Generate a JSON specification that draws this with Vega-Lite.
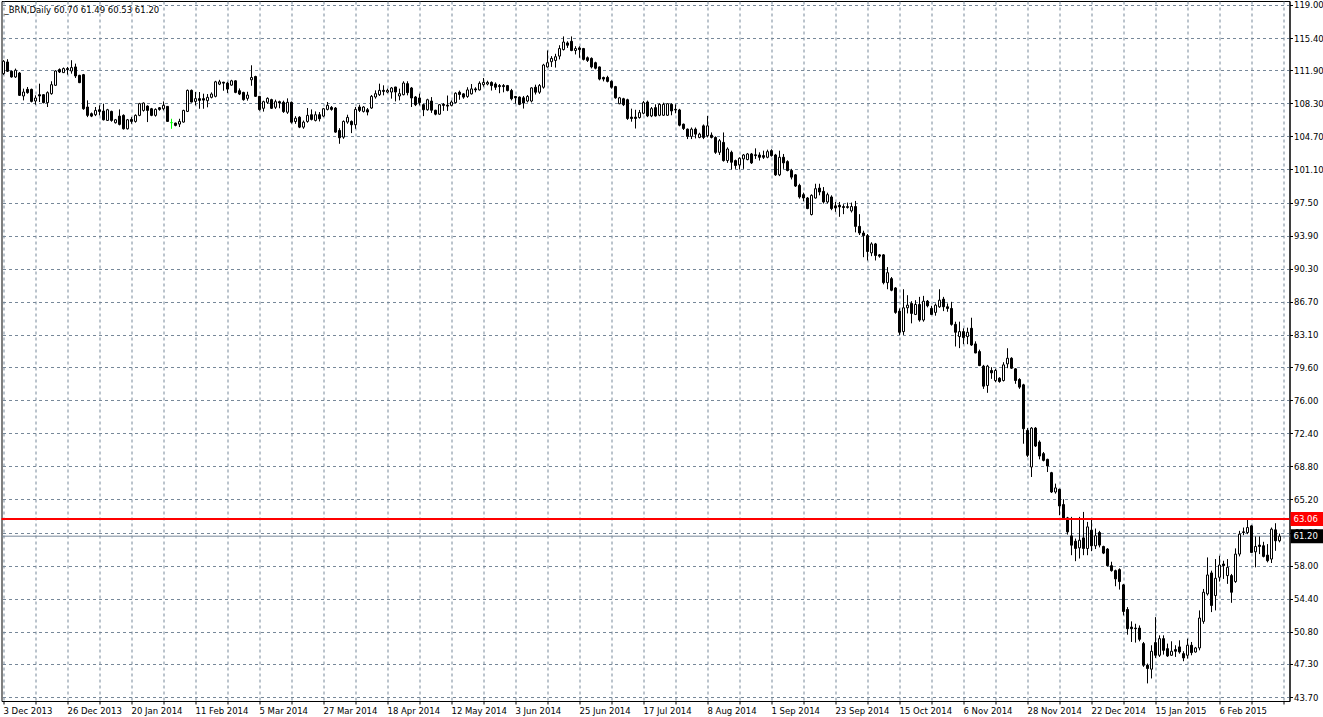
{
  "$schema": "https://vega.github.io/schema/vega-lite/v6.json",
  "autosize": "none",
  "width": 1288,
  "height": 700,
  "padding": {"left": 1.5, "top": 1, "right": 33.5, "bottom": 16},
  "background": "white",
  "config": {"view": {"stroke": "black", "strokeWidth": 1}, "font": "DejaVu Sans"},
  "title": {"text": "_BRN,Daily  60.70 61.49 60.53 61.20", "anchor": "start", "frame": "group", "orient": "top", "offset": -14, "dx": 3, "fontSize": 8.5, "font": "DejaVu Sans", "fontWeight": "normal", "color": "black"},
  "datasets": {
    "levels": [{"name": "Level", "price": 63.06}, {"name": "Bid", "price": 61.2}],
    "bars": [
{"d":"2013-12-03","o":111.53,"h":113.0,"l":111.4,"c":112.88},
{"d":"2013-12-04","o":112.8,"h":113.1,"l":111.71,"c":111.79},
{"d":"2013-12-05","o":111.79,"h":111.85,"l":111.1,"c":111.17},
{"d":"2013-12-06","o":111.17,"h":112.08,"l":111.06,"c":111.9},
{"d":"2013-12-09","o":111.6,"h":111.7,"l":109.1,"c":109.17},
{"d":"2013-12-10","o":109.1,"h":109.9,"l":108.62,"c":109.53},
{"d":"2013-12-11","o":109.82,"h":110.08,"l":109.35,"c":109.46},
{"d":"2013-12-12","o":109.82,"h":109.9,"l":108.4,"c":108.51},
{"d":"2013-12-13","o":108.55,"h":109.17,"l":108.15,"c":108.88},
{"d":"2013-12-16","o":109.24,"h":110.44,"l":108.44,"c":109.1},
{"d":"2013-12-17","o":109.24,"h":109.3,"l":108.3,"c":108.37},
{"d":"2013-12-18","o":108.37,"h":109.6,"l":107.9,"c":109.46},
{"d":"2013-12-19","o":109.35,"h":110.7,"l":109.24,"c":110.33},
{"d":"2013-12-20","o":110.26,"h":111.9,"l":110.2,"c":111.82},
{"d":"2013-12-23","o":111.97,"h":112.1,"l":111.6,"c":111.71},
{"d":"2013-12-24","o":111.64,"h":112.2,"l":111.6,"c":112.08},
{"d":"2013-12-26","o":112.08,"h":112.26,"l":111.42,"c":111.97},
{"d":"2013-12-27","o":111.82,"h":112.99,"l":111.53,"c":112.19},
{"d":"2013-12-30","o":112.26,"h":112.62,"l":111.06,"c":111.28},
{"d":"2013-12-31","o":111.35,"h":111.4,"l":110.5,"c":110.55},
{"d":"2014-01-02","o":111.42,"h":111.5,"l":107.6,"c":107.71},
{"d":"2014-01-03","o":107.9,"h":108.62,"l":106.8,"c":106.99},
{"d":"2014-01-06","o":107.17,"h":107.3,"l":106.8,"c":106.91},
{"d":"2014-01-07","o":107.06,"h":107.9,"l":106.91,"c":107.53},
{"d":"2014-01-08","o":107.6,"h":108.08,"l":106.99,"c":107.42},
{"d":"2014-01-09","o":107.46,"h":108.26,"l":106.44,"c":106.51},
{"d":"2014-01-10","o":106.44,"h":107.7,"l":106.4,"c":107.6},
{"d":"2014-01-13","o":107.42,"h":107.5,"l":106.3,"c":106.44},
{"d":"2014-01-14","o":106.19,"h":106.6,"l":106.1,"c":106.51},
{"d":"2014-01-15","o":106.91,"h":107.64,"l":105.9,"c":106.01},
{"d":"2014-01-16","o":106.99,"h":107.1,"l":105.45,"c":105.53},
{"d":"2014-01-17","o":105.53,"h":106.6,"l":105.45,"c":106.51},
{"d":"2014-01-20","o":106.55,"h":106.8,"l":106.08,"c":106.33},
{"d":"2014-01-21","o":106.33,"h":107.1,"l":106.2,"c":106.99},
{"d":"2014-01-22","o":106.99,"h":108.35,"l":106.9,"c":108.26},
{"d":"2014-01-23","o":107.53,"h":108.4,"l":107.4,"c":108.33},
{"d":"2014-01-24","o":108.0,"h":108.08,"l":106.26,"c":107.53},
{"d":"2014-01-27","o":107.71,"h":107.8,"l":106.9,"c":106.99},
{"d":"2014-01-28","o":106.99,"h":107.75,"l":106.85,"c":107.64},
{"d":"2014-01-29","o":107.82,"h":107.9,"l":107.5,"c":107.64},
{"d":"2014-01-30","o":107.71,"h":108.51,"l":107.53,"c":108.08},
{"d":"2014-01-31","o":107.97,"h":108.0,"l":106.3,"c":106.33},
{"d":"2014-02-03","o":106.2,"h":106.62,"l":105.53,"c":106.2},
{"d":"2014-02-04","o":106.15,"h":106.2,"l":105.8,"c":105.9},
{"d":"2014-02-05","o":106.04,"h":106.62,"l":105.72,"c":106.33},
{"d":"2014-02-06","o":106.26,"h":107.6,"l":106.2,"c":107.53},
{"d":"2014-02-07","o":107.42,"h":109.8,"l":107.35,"c":109.71},
{"d":"2014-02-10","o":109.71,"h":109.8,"l":108.4,"c":108.44},
{"d":"2014-02-11","o":108.51,"h":109.53,"l":108.08,"c":108.81},
{"d":"2014-02-12","o":108.81,"h":109.53,"l":107.71,"c":108.62},
{"d":"2014-02-13","o":108.81,"h":109.35,"l":107.71,"c":108.65},
{"d":"2014-02-14","o":108.59,"h":109.31,"l":107.87,"c":108.95},
{"d":"2014-02-17","o":108.95,"h":109.49,"l":108.84,"c":109.31},
{"d":"2014-02-18","o":109.06,"h":110.75,"l":108.95,"c":110.64},
{"d":"2014-02-19","o":110.39,"h":110.86,"l":110.28,"c":110.64},
{"d":"2014-02-20","o":110.6,"h":110.64,"l":109.67,"c":110.5},
{"d":"2014-02-21","o":110.5,"h":110.64,"l":109.42,"c":109.85},
{"d":"2014-02-24","o":110.28,"h":110.86,"l":110.21,"c":110.75},
{"d":"2014-02-25","o":110.75,"h":110.8,"l":109.4,"c":109.49},
{"d":"2014-02-26","o":109.67,"h":109.92,"l":109.2,"c":109.31},
{"d":"2014-02-27","o":109.49,"h":109.56,"l":108.59,"c":108.7},
{"d":"2014-02-28","o":108.84,"h":109.56,"l":108.59,"c":109.2},
{"d":"2014-03-03","o":110.86,"h":112.44,"l":110.21,"c":111.11},
{"d":"2014-03-04","o":111.22,"h":111.3,"l":109.0,"c":109.06},
{"d":"2014-03-05","o":109.06,"h":109.1,"l":107.5,"c":107.62},
{"d":"2014-03-06","o":107.76,"h":108.59,"l":107.4,"c":108.48},
{"d":"2014-03-07","o":108.41,"h":108.95,"l":108.23,"c":108.84},
{"d":"2014-03-10","o":108.7,"h":108.8,"l":107.7,"c":107.76},
{"d":"2014-03-11","o":107.87,"h":108.7,"l":107.69,"c":108.48},
{"d":"2014-03-12","o":108.48,"h":108.59,"l":107.76,"c":108.34},
{"d":"2014-03-13","o":108.41,"h":108.59,"l":107.26,"c":107.4},
{"d":"2014-03-14","o":107.33,"h":108.84,"l":107.15,"c":108.41},
{"d":"2014-03-17","o":108.41,"h":108.5,"l":106.1,"c":106.25},
{"d":"2014-03-18","o":106.32,"h":106.9,"l":106.07,"c":106.68},
{"d":"2014-03-19","o":106.79,"h":106.9,"l":105.6,"c":105.71},
{"d":"2014-03-20","o":105.71,"h":106.43,"l":105.53,"c":106.25},
{"d":"2014-03-21","o":106.33,"h":107.79,"l":106.19,"c":106.99},
{"d":"2014-03-24","o":107.06,"h":107.64,"l":106.44,"c":106.55},
{"d":"2014-03-25","o":106.44,"h":107.42,"l":106.33,"c":107.06},
{"d":"2014-03-26","o":107.06,"h":107.35,"l":106.33,"c":106.62},
{"d":"2014-03-27","o":106.91,"h":107.8,"l":106.8,"c":107.71},
{"d":"2014-03-28","o":107.64,"h":108.44,"l":107.53,"c":108.08},
{"d":"2014-03-31","o":107.86,"h":108.0,"l":107.5,"c":107.64},
{"d":"2014-04-01","o":107.79,"h":107.9,"l":105.1,"c":105.17},
{"d":"2014-04-02","o":105.35,"h":105.6,"l":103.9,"c":104.55},
{"d":"2014-04-03","o":104.62,"h":106.44,"l":104.44,"c":106.33},
{"d":"2014-04-04","o":106.26,"h":107.06,"l":106.08,"c":106.77},
{"d":"2014-04-07","o":106.33,"h":106.44,"l":105.06,"c":105.97},
{"d":"2014-04-08","o":105.97,"h":107.9,"l":105.53,"c":107.64},
{"d":"2014-04-09","o":107.9,"h":108.15,"l":107.35,"c":107.53},
{"d":"2014-04-10","o":107.42,"h":108.0,"l":107.3,"c":107.9},
{"d":"2014-04-11","o":107.6,"h":107.79,"l":106.99,"c":107.35},
{"d":"2014-04-14","o":107.79,"h":109.2,"l":107.7,"c":109.06},
{"d":"2014-04-15","o":108.99,"h":109.71,"l":108.81,"c":109.35},
{"d":"2014-04-16","o":109.24,"h":110.44,"l":109.1,"c":109.71},
{"d":"2014-04-17","o":109.71,"h":110.26,"l":109.17,"c":109.6},
{"d":"2014-04-18","o":109.53,"h":109.9,"l":109.4,"c":109.71},
{"d":"2014-04-21","o":109.53,"h":110.08,"l":108.81,"c":109.97},
{"d":"2014-04-22","o":110.08,"h":110.1,"l":108.51,"c":109.53},
{"d":"2014-04-23","o":109.1,"h":109.9,"l":108.62,"c":109.35},
{"d":"2014-04-24","o":109.24,"h":110.7,"l":109.17,"c":110.51},
{"d":"2014-04-25","o":110.44,"h":110.7,"l":109.17,"c":109.46},
{"d":"2014-04-28","o":109.97,"h":110.08,"l":107.9,"c":108.88},
{"d":"2014-04-29","o":108.99,"h":109.1,"l":108.0,"c":108.15},
{"d":"2014-04-30","o":108.88,"h":109.35,"l":108.08,"c":108.37},
{"d":"2014-05-01","o":108.15,"h":108.26,"l":106.91,"c":107.6},
{"d":"2014-05-02","o":107.6,"h":108.8,"l":107.5,"c":108.69},
{"d":"2014-05-05","o":108.55,"h":108.98,"l":107.26,"c":107.55},
{"d":"2014-05-06","o":107.55,"h":107.6,"l":107.0,"c":107.12},
{"d":"2014-05-07","o":107.12,"h":108.2,"l":107.05,"c":108.15},
{"d":"2014-05-08","o":108.19,"h":108.33,"l":107.48,"c":108.08},
{"d":"2014-05-09","o":108.1,"h":109.15,"l":107.48,"c":108.0},
{"d":"2014-05-12","o":108.08,"h":108.62,"l":107.98,"c":108.44},
{"d":"2014-05-13","o":108.37,"h":109.5,"l":108.3,"c":109.4},
{"d":"2014-05-14","o":109.51,"h":109.69,"l":108.69,"c":109.26},
{"d":"2014-05-15","o":109.33,"h":109.4,"l":108.8,"c":108.98},
{"d":"2014-05-16","o":109.05,"h":110.05,"l":108.9,"c":109.76},
{"d":"2014-05-19","o":109.33,"h":110.4,"l":109.26,"c":109.87},
{"d":"2014-05-20","o":109.87,"h":110.05,"l":109.5,"c":109.76},
{"d":"2014-05-21","o":109.76,"h":110.69,"l":109.69,"c":110.48},
{"d":"2014-05-22","o":110.33,"h":111.05,"l":110.12,"c":110.58},
{"d":"2014-05-23","o":110.4,"h":110.76,"l":110.26,"c":110.58},
{"d":"2014-05-26","o":110.58,"h":110.69,"l":109.69,"c":110.23},
{"d":"2014-05-27","o":110.4,"h":110.58,"l":109.76,"c":110.05},
{"d":"2014-05-28","o":110.23,"h":110.4,"l":109.4,"c":110.12},
{"d":"2014-05-29","o":110.23,"h":110.4,"l":109.5,"c":110.12},
{"d":"2014-05-30","o":110.23,"h":110.3,"l":109.6,"c":109.69},
{"d":"2014-06-02","o":109.69,"h":109.87,"l":108.62,"c":108.8},
{"d":"2014-06-03","o":109.05,"h":109.1,"l":108.26,"c":108.9},
{"d":"2014-06-04","o":108.98,"h":109.05,"l":108.1,"c":108.19},
{"d":"2014-06-05","o":108.9,"h":109.1,"l":107.73,"c":108.33},
{"d":"2014-06-06","o":108.55,"h":109.2,"l":108.4,"c":109.05},
{"d":"2014-06-09","o":108.55,"h":110.05,"l":108.4,"c":109.98},
{"d":"2014-06-10","o":110.05,"h":110.33,"l":109.26,"c":109.51},
{"d":"2014-06-11","o":109.51,"h":110.4,"l":109.33,"c":110.23},
{"d":"2014-06-12","o":110.05,"h":112.6,"l":109.9,"c":112.47},
{"d":"2014-06-13","o":112.26,"h":114.05,"l":112.19,"c":112.72},
{"d":"2014-06-16","o":112.83,"h":113.44,"l":112.26,"c":113.19},
{"d":"2014-06-17","o":112.97,"h":113.69,"l":112.19,"c":113.37},
{"d":"2014-06-18","o":113.44,"h":114.62,"l":113.08,"c":114.26},
{"d":"2014-06-19","o":114.15,"h":115.58,"l":114.05,"c":114.97},
{"d":"2014-06-20","o":114.87,"h":115.05,"l":114.33,"c":114.62},
{"d":"2014-06-23","o":115.05,"h":115.58,"l":113.97,"c":114.05},
{"d":"2014-06-24","o":114.05,"h":114.51,"l":113.62,"c":114.26},
{"d":"2014-06-25","o":114.33,"h":114.51,"l":113.26,"c":114.15},
{"d":"2014-06-26","o":114.26,"h":114.33,"l":112.97,"c":113.08},
{"d":"2014-06-27","o":113.26,"h":113.4,"l":112.8,"c":112.97},
{"d":"2014-06-30","o":113.19,"h":113.3,"l":112.1,"c":112.26},
{"d":"2014-07-01","o":112.72,"h":112.83,"l":112.0,"c":112.12},
{"d":"2014-07-02","o":112.26,"h":112.3,"l":110.8,"c":110.94},
{"d":"2014-07-03","o":111.12,"h":111.2,"l":110.69,"c":110.94},
{"d":"2014-07-04","o":111.12,"h":111.3,"l":110.58,"c":110.69},
{"d":"2014-07-07","o":110.69,"h":110.8,"l":109.9,"c":110.05},
{"d":"2014-07-08","o":110.12,"h":110.2,"l":108.8,"c":108.9},
{"d":"2014-07-09","o":108.26,"h":109.0,"l":108.2,"c":108.9},
{"d":"2014-07-10","o":108.8,"h":108.9,"l":108.0,"c":108.15},
{"d":"2014-07-11","o":108.69,"h":108.8,"l":106.5,"c":106.65},
{"d":"2014-07-14","o":106.8,"h":107.72,"l":106.3,"c":106.65},
{"d":"2014-07-15","o":106.8,"h":107.6,"l":105.56,"c":106.65},
{"d":"2014-07-16","o":106.75,"h":107.58,"l":106.64,"c":107.29},
{"d":"2014-07-17","o":107.22,"h":108.55,"l":107.11,"c":108.37},
{"d":"2014-07-18","o":108.44,"h":108.6,"l":106.8,"c":106.93},
{"d":"2014-07-21","o":106.93,"h":107.9,"l":106.8,"c":107.72},
{"d":"2014-07-22","o":107.83,"h":108.19,"l":106.86,"c":106.93},
{"d":"2014-07-23","o":107.0,"h":108.3,"l":106.9,"c":108.19},
{"d":"2014-07-24","o":107.0,"h":108.37,"l":106.93,"c":108.19},
{"d":"2014-07-25","o":107.0,"h":108.3,"l":106.93,"c":108.26},
{"d":"2014-07-28","o":108.19,"h":108.3,"l":107.0,"c":107.47},
{"d":"2014-07-29","o":107.65,"h":108.19,"l":107.22,"c":107.58},
{"d":"2014-07-30","o":107.58,"h":107.7,"l":105.8,"c":105.92},
{"d":"2014-07-31","o":106.03,"h":106.1,"l":105.4,"c":105.56},
{"d":"2014-08-01","o":105.49,"h":105.56,"l":104.41,"c":104.7},
{"d":"2014-08-04","o":104.7,"h":105.67,"l":104.41,"c":105.49},
{"d":"2014-08-05","o":105.49,"h":105.67,"l":104.48,"c":104.95},
{"d":"2014-08-06","o":104.59,"h":105.1,"l":104.5,"c":104.95},
{"d":"2014-08-07","o":105.85,"h":106.0,"l":104.41,"c":104.59},
{"d":"2014-08-08","o":104.77,"h":106.93,"l":104.59,"c":105.85},
{"d":"2014-08-11","o":104.84,"h":105.13,"l":104.48,"c":104.59},
{"d":"2014-08-12","o":104.59,"h":104.7,"l":102.8,"c":102.97},
{"d":"2014-08-13","o":102.97,"h":104.41,"l":102.68,"c":104.23},
{"d":"2014-08-14","o":104.05,"h":105.13,"l":101.96,"c":102.07},
{"d":"2014-08-15","o":102.07,"h":103.51,"l":101.82,"c":103.33},
{"d":"2014-08-18","o":102.97,"h":103.15,"l":101.1,"c":101.89},
{"d":"2014-08-19","o":102.07,"h":102.18,"l":101.17,"c":101.53},
{"d":"2014-08-20","o":101.6,"h":102.43,"l":101.1,"c":102.32},
{"d":"2014-08-21","o":102.25,"h":102.79,"l":101.17,"c":102.68},
{"d":"2014-08-22","o":102.18,"h":102.9,"l":102.1,"c":102.79},
{"d":"2014-08-25","o":102.79,"h":102.9,"l":101.7,"c":101.82},
{"d":"2014-08-26","o":102.7,"h":103.4,"l":102.25,"c":102.61},
{"d":"2014-08-27","o":102.68,"h":102.97,"l":102.07,"c":102.43},
{"d":"2014-08-28","o":102.61,"h":103.15,"l":102.25,"c":102.43},
{"d":"2014-08-29","o":102.43,"h":103.26,"l":102.32,"c":103.04},
{"d":"2014-09-01","o":103.15,"h":103.3,"l":102.5,"c":102.61},
{"d":"2014-09-02","o":102.68,"h":102.8,"l":100.4,"c":100.52},
{"d":"2014-09-03","o":100.52,"h":103.15,"l":100.38,"c":102.43},
{"d":"2014-09-04","o":102.43,"h":102.79,"l":101.17,"c":101.82},
{"d":"2014-09-05","o":101.96,"h":102.1,"l":100.9,"c":100.99},
{"d":"2014-09-08","o":100.99,"h":101.17,"l":100.02,"c":100.27},
{"d":"2014-09-09","o":100.52,"h":100.6,"l":99.2,"c":99.3},
{"d":"2014-09-10","o":99.37,"h":99.55,"l":97.93,"c":98.11},
{"d":"2014-09-11","o":98.36,"h":98.58,"l":97.64,"c":98.0},
{"d":"2014-09-12","o":98.0,"h":98.11,"l":96.78,"c":96.85},
{"d":"2014-09-15","o":96.2,"h":98.4,"l":96.1,"c":98.29},
{"d":"2014-09-16","o":98.0,"h":99.55,"l":97.93,"c":99.01},
{"d":"2014-09-17","o":99.08,"h":99.55,"l":98.29,"c":98.65},
{"d":"2014-09-18","o":98.72,"h":99.19,"l":97.39,"c":97.57},
{"d":"2014-09-19","o":97.57,"h":98.58,"l":97.39,"c":98.36},
{"d":"2014-09-22","o":98.11,"h":98.29,"l":96.67,"c":96.85},
{"d":"2014-09-23","o":97.14,"h":97.57,"l":96.49,"c":96.92},
{"d":"2014-09-24","o":97.21,"h":97.57,"l":95.95,"c":97.03},
{"d":"2014-09-25","o":97.07,"h":97.32,"l":96.24,"c":96.96},
{"d":"2014-09-26","o":96.96,"h":97.5,"l":96.85,"c":97.07},
{"d":"2014-09-29","o":96.6,"h":97.5,"l":96.42,"c":97.07},
{"d":"2014-09-30","o":97.07,"h":97.68,"l":94.26,"c":94.91},
{"d":"2014-10-01","o":94.91,"h":96.24,"l":93.97,"c":94.19},
{"d":"2014-10-02","o":94.19,"h":94.44,"l":91.56,"c":93.9},
{"d":"2014-10-03","o":93.9,"h":94.08,"l":91.2,"c":92.17},
{"d":"2014-10-06","o":92.03,"h":93.18,"l":91.67,"c":93.0},
{"d":"2014-10-07","o":93.0,"h":93.11,"l":91.2,"c":91.74},
{"d":"2014-10-08","o":91.81,"h":91.9,"l":91.5,"c":91.67},
{"d":"2014-10-09","o":91.81,"h":91.9,"l":88.6,"c":88.79},
{"d":"2014-10-10","o":88.79,"h":90.48,"l":88.07,"c":89.87},
{"d":"2014-10-13","o":89.22,"h":89.4,"l":87.85,"c":87.96},
{"d":"2014-10-14","o":88.21,"h":88.3,"l":85.4,"c":85.55},
{"d":"2014-10-15","o":85.69,"h":85.98,"l":83.1,"c":83.39},
{"d":"2014-10-16","o":83.46,"h":88.07,"l":83.1,"c":86.05},
{"d":"2014-10-17","o":86.05,"h":87.42,"l":85.44,"c":86.34},
{"d":"2014-10-20","o":86.52,"h":86.77,"l":84.36,"c":85.44},
{"d":"2014-10-21","o":85.33,"h":86.88,"l":85.26,"c":86.41},
{"d":"2014-10-22","o":86.41,"h":87.24,"l":84.54,"c":84.72},
{"d":"2014-10-23","o":84.72,"h":87.35,"l":84.54,"c":86.77},
{"d":"2014-10-24","o":86.77,"h":86.9,"l":86.1,"c":86.27},
{"d":"2014-10-27","o":85.98,"h":86.27,"l":85.26,"c":85.33},
{"d":"2014-10-28","o":85.55,"h":86.52,"l":85.19,"c":86.34},
{"d":"2014-10-29","o":86.16,"h":88.07,"l":86.05,"c":86.88},
{"d":"2014-10-30","o":86.99,"h":87.24,"l":85.69,"c":86.16},
{"d":"2014-10-31","o":86.16,"h":86.52,"l":85.62,"c":85.98},
{"d":"2014-11-03","o":85.98,"h":86.7,"l":84.11,"c":84.25},
{"d":"2014-11-04","o":84.25,"h":84.54,"l":81.84,"c":83.39},
{"d":"2014-11-05","o":82.92,"h":84.54,"l":81.66,"c":83.46},
{"d":"2014-11-06","o":83.46,"h":83.82,"l":82.09,"c":82.81},
{"d":"2014-11-07","o":82.92,"h":83.89,"l":82.09,"c":83.39},
{"d":"2014-11-10","o":83.82,"h":84.97,"l":81.9,"c":82.0},
{"d":"2014-11-11","o":82.12,"h":82.4,"l":81.1,"c":81.14},
{"d":"2014-11-12","o":81.29,"h":81.5,"l":79.7,"c":79.77},
{"d":"2014-11-13","o":79.7,"h":79.84,"l":77.23,"c":77.52},
{"d":"2014-11-14","o":77.6,"h":79.84,"l":76.8,"c":79.7},
{"d":"2014-11-17","o":79.23,"h":79.59,"l":78.32,"c":78.97},
{"d":"2014-11-18","o":78.14,"h":79.41,"l":77.96,"c":79.23},
{"d":"2014-11-19","o":78.39,"h":78.5,"l":77.9,"c":78.03},
{"d":"2014-11-20","o":78.14,"h":80.13,"l":78.03,"c":79.84},
{"d":"2014-11-21","o":79.95,"h":81.65,"l":79.48,"c":80.56},
{"d":"2014-11-24","o":80.56,"h":80.67,"l":79.41,"c":79.48},
{"d":"2014-11-25","o":79.41,"h":79.48,"l":77.78,"c":78.14},
{"d":"2014-11-26","o":78.25,"h":78.39,"l":77.23,"c":77.42},
{"d":"2014-11-27","o":77.67,"h":77.78,"l":71.26,"c":72.89},
{"d":"2014-11-28","o":72.71,"h":72.96,"l":69.81,"c":70.0},
{"d":"2014-12-01","o":68.73,"h":73.07,"l":67.64,"c":72.96},
{"d":"2014-12-02","o":72.96,"h":73.07,"l":70.9,"c":71.01},
{"d":"2014-12-03","o":71.44,"h":71.62,"l":69.56,"c":69.92},
{"d":"2014-12-04","o":70.18,"h":70.36,"l":69.34,"c":69.45},
{"d":"2014-12-05","o":69.56,"h":69.63,"l":68.18,"c":68.84},
{"d":"2014-12-08","o":68.11,"h":68.2,"l":65.9,"c":66.01},
{"d":"2014-12-09","o":66.01,"h":66.92,"l":65.83,"c":66.45},
{"d":"2014-12-10","o":66.3,"h":66.37,"l":63.48,"c":64.49},
{"d":"2014-12-11","o":64.64,"h":65.22,"l":63.12,"c":63.19},
{"d":"2014-12-12","o":63.19,"h":63.3,"l":61.38,"c":61.67},
{"d":"2014-12-15","o":61.23,"h":63.3,"l":59.13,"c":60.22},
{"d":"2014-12-16","o":60.65,"h":60.94,"l":58.48,"c":59.86},
{"d":"2014-12-17","o":59.93,"h":63.3,"l":58.77,"c":60.76},
{"d":"2014-12-18","o":61.01,"h":63.84,"l":59.13,"c":59.86},
{"d":"2014-12-19","o":59.86,"h":62.75,"l":59.13,"c":62.21},
{"d":"2014-12-22","o":61.85,"h":63.19,"l":59.57,"c":60.15},
{"d":"2014-12-23","o":60.15,"h":62.03,"l":59.8,"c":61.24},
{"d":"2014-12-24","o":61.6,"h":61.78,"l":59.98,"c":60.23},
{"d":"2014-12-26","o":60.08,"h":60.16,"l":59.25,"c":59.36},
{"d":"2014-12-29","o":59.8,"h":59.9,"l":57.9,"c":57.99},
{"d":"2014-12-30","o":57.99,"h":58.42,"l":57.34,"c":57.45},
{"d":"2014-12-31","o":57.45,"h":57.56,"l":55.75,"c":56.55},
{"d":"2015-01-02","o":57.56,"h":57.7,"l":55.39,"c":56.26},
{"d":"2015-01-05","o":55.9,"h":56.0,"l":52.58,"c":53.01},
{"d":"2015-01-06","o":53.22,"h":53.48,"l":50.48,"c":51.13},
{"d":"2015-01-07","o":51.31,"h":51.93,"l":49.69,"c":51.13},
{"d":"2015-01-08","o":51.2,"h":51.67,"l":49.62,"c":51.13},
{"d":"2015-01-09","o":51.2,"h":51.49,"l":49.76,"c":49.98},
{"d":"2015-01-12","o":49.51,"h":49.69,"l":46.98,"c":47.16},
{"d":"2015-01-13","o":47.16,"h":47.34,"l":45.18,"c":46.8},
{"d":"2015-01-14","o":46.73,"h":49.33,"l":45.72,"c":48.68},
{"d":"2015-01-15","o":49.62,"h":52.39,"l":47.95,"c":48.24},
{"d":"2015-01-16","o":48.24,"h":50.41,"l":48.06,"c":50.05},
{"d":"2015-01-19","o":50.05,"h":50.41,"l":48.31,"c":48.78},
{"d":"2015-01-20","o":48.96,"h":49.51,"l":48.06,"c":48.17},
{"d":"2015-01-21","o":48.24,"h":49.76,"l":48.17,"c":48.68},
{"d":"2015-01-22","o":48.86,"h":49.33,"l":48.06,"c":48.68},
{"d":"2015-01-23","o":49.15,"h":49.87,"l":48.42,"c":48.6},
{"d":"2015-01-26","o":48.42,"h":48.68,"l":47.59,"c":47.95},
{"d":"2015-01-27","o":48.24,"h":50.05,"l":47.88,"c":49.33},
{"d":"2015-01-28","o":49.33,"h":49.69,"l":48.24,"c":48.53},
{"d":"2015-01-29","o":48.6,"h":49.15,"l":48.53,"c":49.04},
{"d":"2015-01-30","o":49.04,"h":53.12,"l":48.78,"c":52.29},
{"d":"2015-02-02","o":51.93,"h":55.46,"l":51.67,"c":55.1},
{"d":"2015-02-03","o":54.92,"h":58.89,"l":54.74,"c":56.98},
{"d":"2015-02-04","o":57.2,"h":57.45,"l":52.94,"c":53.66},
{"d":"2015-02-05","o":54.74,"h":58.71,"l":53.12,"c":56.62},
{"d":"2015-02-06","o":56.73,"h":59.07,"l":56.26,"c":58.06},
{"d":"2015-02-09","o":58.17,"h":58.53,"l":56.55,"c":57.99},
{"d":"2015-02-10","o":56.91,"h":58.71,"l":56.01,"c":57.81},
{"d":"2015-02-11","o":56.91,"h":57.09,"l":53.95,"c":55.1},
{"d":"2015-02-12","o":56.26,"h":59.87,"l":56.12,"c":59.25},
{"d":"2015-02-13","o":59.25,"h":61.78,"l":59.0,"c":61.42},
{"d":"2015-02-16","o":61.67,"h":62.14,"l":61.31,"c":61.6},
{"d":"2015-02-17","o":61.6,"h":62.97,"l":61.42,"c":62.14},
{"d":"2015-02-18","o":62.32,"h":62.39,"l":59.36,"c":59.43},
{"d":"2015-02-19","o":59.5,"h":61.17,"l":57.81,"c":60.08},
{"d":"2015-02-20","o":60.23,"h":61.17,"l":59.25,"c":60.08},
{"d":"2015-02-23","o":60.16,"h":60.59,"l":58.89,"c":59.0},
{"d":"2015-02-24","o":59.14,"h":60.34,"l":58.35,"c":58.53},
{"d":"2015-02-25","o":58.71,"h":62.14,"l":58.28,"c":61.96},
{"d":"2015-02-26","o":61.89,"h":62.61,"l":59.61,"c":60.7},
{"d":"2015-02-27","o":60.7,"h":61.49,"l":60.53,"c":61.2}
    ]
  },
  "data": {"name": "bars"},
  "encoding": {
    "x": {
      "field": "d",
      "type": "ordinal",
      "sort": "ascending",
      "scale": {"type": "band", "paddingInner": 0, "paddingOuter": 0, "domain": {"unionWith": ["2015-03-02", "2015-03-03"]}},
      "axis": {
        "title": null,
        "values": ["2013-12-03","2013-12-13","2013-12-26","2014-01-08","2014-01-20","2014-01-30","2014-02-11","2014-02-21","2014-03-05","2014-03-17","2014-03-27","2014-04-08","2014-04-18","2014-04-30","2014-05-12","2014-05-22","2014-06-03","2014-06-13","2014-06-25","2014-07-07","2014-07-17","2014-07-29","2014-08-08","2014-08-20","2014-09-01","2014-09-11","2014-09-23","2014-10-03","2014-10-15","2014-10-27","2014-11-06","2014-11-18","2014-11-28","2014-12-10","2014-12-22","2015-01-05","2015-01-15","2015-01-27","2015-02-06","2015-02-18","2015-03-02"],
        "labelExpr": "indexof(['2013-12-03','2013-12-26','2014-01-20','2014-02-11','2014-03-05','2014-03-27','2014-04-18','2014-05-12','2014-06-03','2014-06-25','2014-07-17','2014-08-08','2014-09-01','2014-09-23','2014-10-15','2014-11-06','2014-11-28','2014-12-22','2015-01-15','2015-02-06'], datum.value) >= 0 ? utcFormat(toDate(datum.value), '%-d %b %Y') : ''",
        "bandPosition": 0.5,
        "tickCount": 60,
        "grid": true,
        "gridColor": "#778899",
        "gridDash": [3, 3],
        "gridWidth": 1,
        "tickColor": "black",
        "tickSize": 3,
        "domainColor": "black",
        "labelAngle": 0,
        "labelAlign": "left",
        "labelBaseline": "top",
        "labelPadding": 2,
        "labelFont": "DejaVu Sans",
        "labelFontSize": 8.5,
        "labelColor": "black",
        "labelOverlap": false,
        "labelBound": false,
        "labelFlush": false
      }
    }
  },
  "layer": [
    {
      "data": {"name": "levels"},
      "transform": [{"filter": "datum.name == 'Bid'"}],
      "mark": {"type": "rule", "color": "#778899", "strokeWidth": 1},
      "encoding": {"x": null, "y": {"field": "price", "type": "quantitative"}}
    },
    {
      "mark": {"type": "rule", "strokeWidth": 1},
      "encoding": {
        "y": {
          "field": "l",
          "type": "quantitative",
          "scale": {"domain": [43.265, 119.435], "nice": false, "zero": false},
          "axis": {
            "orient": "right",
            "title": null,
            "values": [43.7, 47.3, 50.8, 54.4, 58.0, 61.6, 65.2, 68.8, 72.4, 76.0, 79.6, 83.1, 86.7, 90.3, 93.9, 97.5, 101.1, 104.7, 108.3, 111.9, 115.4, 119.0],
            "tickCount": 60,
            "format": ".2f",
            "grid": true,
            "gridColor": "#778899",
            "gridDash": [3, 3],
            "gridWidth": 1,
            "tickColor": "black",
            "tickSize": 3,
            "domainColor": "black",
            "labelFont": "DejaVu Sans",
            "labelFontSize": 8.5,
            "labelColor": "black",
            "labelPadding": 1,
            "labelOverlap": false,
            "labelFlush": false,
            "labelBound": false
          }
        },
        "y2": {"field": "h"},
        "color": {"condition": {"test": "datum.o == datum.c", "value": "#00ff00"}, "value": "black"}
      }
    },
    {
      "mark": {"type": "bar", "size": 2, "strokeWidth": 1},
      "encoding": {
        "y": {"field": "o", "type": "quantitative"},
        "y2": {"field": "c"},
        "fill": {"condition": {"test": "datum.c >= datum.o", "value": "white"}, "value": "black"},
        "stroke": {"condition": {"test": "datum.o == datum.c", "value": "#00ff00"}, "value": "black"}
      }
    },
    {
      "data": {"name": "levels"},
      "transform": [{"filter": "datum.name == 'Level'"}],
      "mark": {"type": "rule", "color": "#ff0000", "strokeWidth": 2},
      "encoding": {"x": null, "y": {"field": "price", "type": "quantitative"}}
    },
    {
      "data": {"name": "levels"},
      "mark": {"type": "rect", "height": 14, "x": {"expr": "width + 1"}, "x2": {"expr": "width + 36"}},
      "encoding": {
        "x": null,
        "y": {"field": "price", "type": "quantitative"},
        "fill": {"condition": {"test": "datum.name == 'Level'", "value": "#ff0000"}, "value": "black"}
      }
    },
    {
      "data": {"name": "levels"},
      "mark": {"type": "text", "align": "left", "baseline": "middle", "x": {"expr": "width + 4"}, "font": "DejaVu Sans", "fontSize": 8.5, "color": "white"},
      "encoding": {
        "x": null,
        "y": {"field": "price", "type": "quantitative"},
        "text": {"field": "price", "type": "quantitative", "format": ".2f"}
      }
    }
  ]
}
